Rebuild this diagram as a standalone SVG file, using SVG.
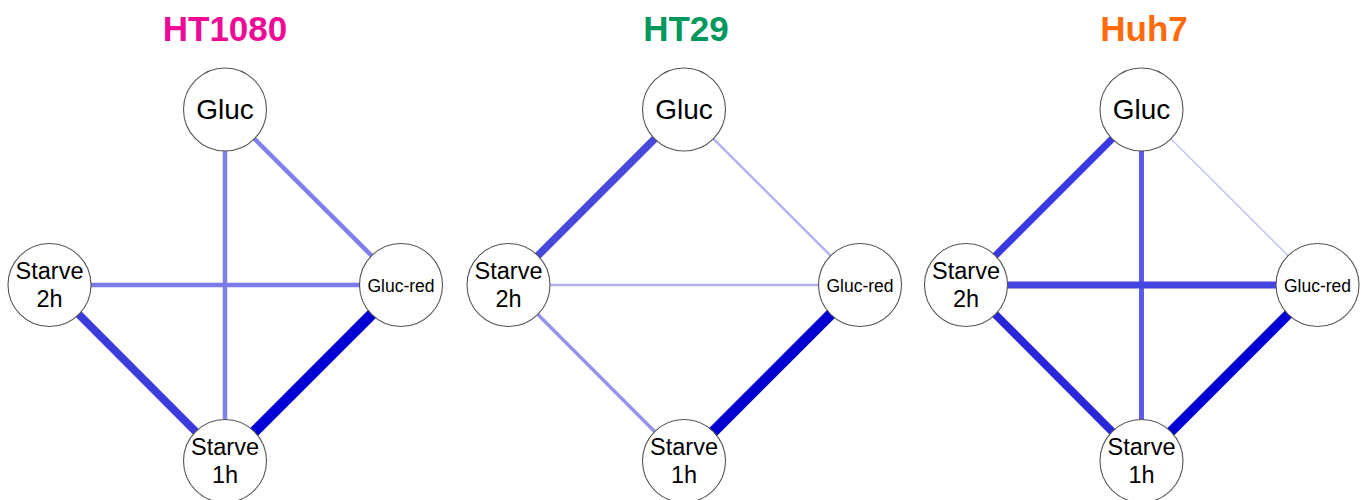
<svg xmlns="http://www.w3.org/2000/svg" width="1366" height="500" viewBox="0 0 1366 500">
<style>
.title{font-family:"Liberation Sans",Arial,sans-serif;font-weight:bold;font-size:35px;text-anchor:middle}
.node circle{fill:#fff;stroke:#555;stroke-width:1.1}
.node text{font-family:"Liberation Sans",Arial,sans-serif;fill:#000;text-anchor:middle}
.big{font-size:28px}
.mid{font-size:23.5px}
.small{font-size:17.5px}
.edges line{stroke-linecap:butt}
</style>
<rect width="1366" height="500" fill="#fff"/>
<text class="title" x="225" y="41" fill="#EE0A96">HT1080</text>
<text class="title" x="686" y="41" fill="#00985E">HT29</text>
<text class="title" x="1144" y="41" fill="#FF6A0A">Huh7</text>

<g id="panel-HT1080">
<g class="edges" id="edges-HT1080">
<line x1="225" y1="109.5" x2="225" y2="461" stroke="#8080ea" stroke-width="4.5"/>
<line x1="225" y1="109.5" x2="401" y2="285" stroke="#8080ea" stroke-width="4.5"/>
<line x1="49.5" y1="285" x2="401" y2="285" stroke="#7a7ae8" stroke-width="4.5"/>
<line x1="49.5" y1="285" x2="225" y2="461" stroke="#3c3cdc" stroke-width="8"/>
<line x1="401" y1="285" x2="225" y2="461" stroke="#0000d4" stroke-width="11"/>
</g>
<g class="node" id="ht1080-gluc"><circle cx="225" cy="109.5" r="41.5"/><text class="big" x="225" y="119">Gluc</text></g>
<g class="node" id="ht1080-starve2h"><circle cx="49.5" cy="285" r="41.5"/><text class="mid" x="49.5" y="279">Starve</text><text class="mid" x="49.5" y="307">2h</text></g>
<g class="node" id="ht1080-glucred"><circle cx="401" cy="285" r="41.5"/><text class="small" x="401" y="292">Gluc-red</text></g>
<g class="node" id="ht1080-starve1h"><circle cx="225" cy="461" r="41.5"/><text class="mid" x="225" y="455">Starve</text><text class="mid" x="225" y="483">1h</text></g>
</g>

<g id="panel-HT29">
<g class="edges" id="edges-HT29">
<line x1="684" y1="109.5" x2="508.5" y2="285" stroke="#4848dc" stroke-width="7.5"/>
<line x1="684" y1="109.5" x2="860" y2="285" stroke="#b4b4f2" stroke-width="2.5"/>
<line x1="508.5" y1="285" x2="860" y2="285" stroke="#b0b0f0" stroke-width="2.5"/>
<line x1="508.5" y1="285" x2="684" y2="461" stroke="#9494ec" stroke-width="3.5"/>
<line x1="860" y1="285" x2="684" y2="461" stroke="#0000d0" stroke-width="11"/>
</g>
<g class="node" id="ht29-gluc"><circle cx="684" cy="109.5" r="41.5"/><text class="big" x="684" y="119">Gluc</text></g>
<g class="node" id="ht29-starve2h"><circle cx="508.5" cy="285" r="41.5"/><text class="mid" x="508.5" y="279">Starve</text><text class="mid" x="508.5" y="307">2h</text></g>
<g class="node" id="ht29-glucred"><circle cx="860" cy="285" r="41.5"/><text class="small" x="860" y="292">Gluc-red</text></g>
<g class="node" id="ht29-starve1h"><circle cx="684" cy="461" r="41.5"/><text class="mid" x="684" y="455">Starve</text><text class="mid" x="684" y="483">1h</text></g>
</g>

<g id="panel-Huh7">
<g class="edges" id="edges-Huh7">
<line x1="1141.5" y1="109.5" x2="966" y2="285" stroke="#3a3ae0" stroke-width="7"/>
<line x1="1141.5" y1="109.5" x2="1141.5" y2="461" stroke="#5a5ae4" stroke-width="5"/>
<line x1="1141.5" y1="109.5" x2="1317.5" y2="285" stroke="#c4c4f6" stroke-width="1.5"/>
<line x1="966" y1="285" x2="1317.5" y2="285" stroke="#4444e2" stroke-width="7"/>
<line x1="966" y1="285" x2="1141.5" y2="461" stroke="#2828d8" stroke-width="8"/>
<line x1="1317.5" y1="285" x2="1141.5" y2="461" stroke="#0000d4" stroke-width="10"/>
</g>
<g class="node" id="huh7-gluc"><circle cx="1141.5" cy="109.5" r="41.5"/><text class="big" x="1141.5" y="119">Gluc</text></g>
<g class="node" id="huh7-starve2h"><circle cx="966" cy="285" r="41.5"/><text class="mid" x="966" y="279">Starve</text><text class="mid" x="966" y="307">2h</text></g>
<g class="node" id="huh7-glucred"><circle cx="1317.5" cy="285" r="41.5"/><text class="small" x="1317.5" y="292">Gluc-red</text></g>
<g class="node" id="huh7-starve1h"><circle cx="1141.5" cy="461" r="41.5"/><text class="mid" x="1141.5" y="455">Starve</text><text class="mid" x="1141.5" y="483">1h</text></g>
</g>
</svg>
